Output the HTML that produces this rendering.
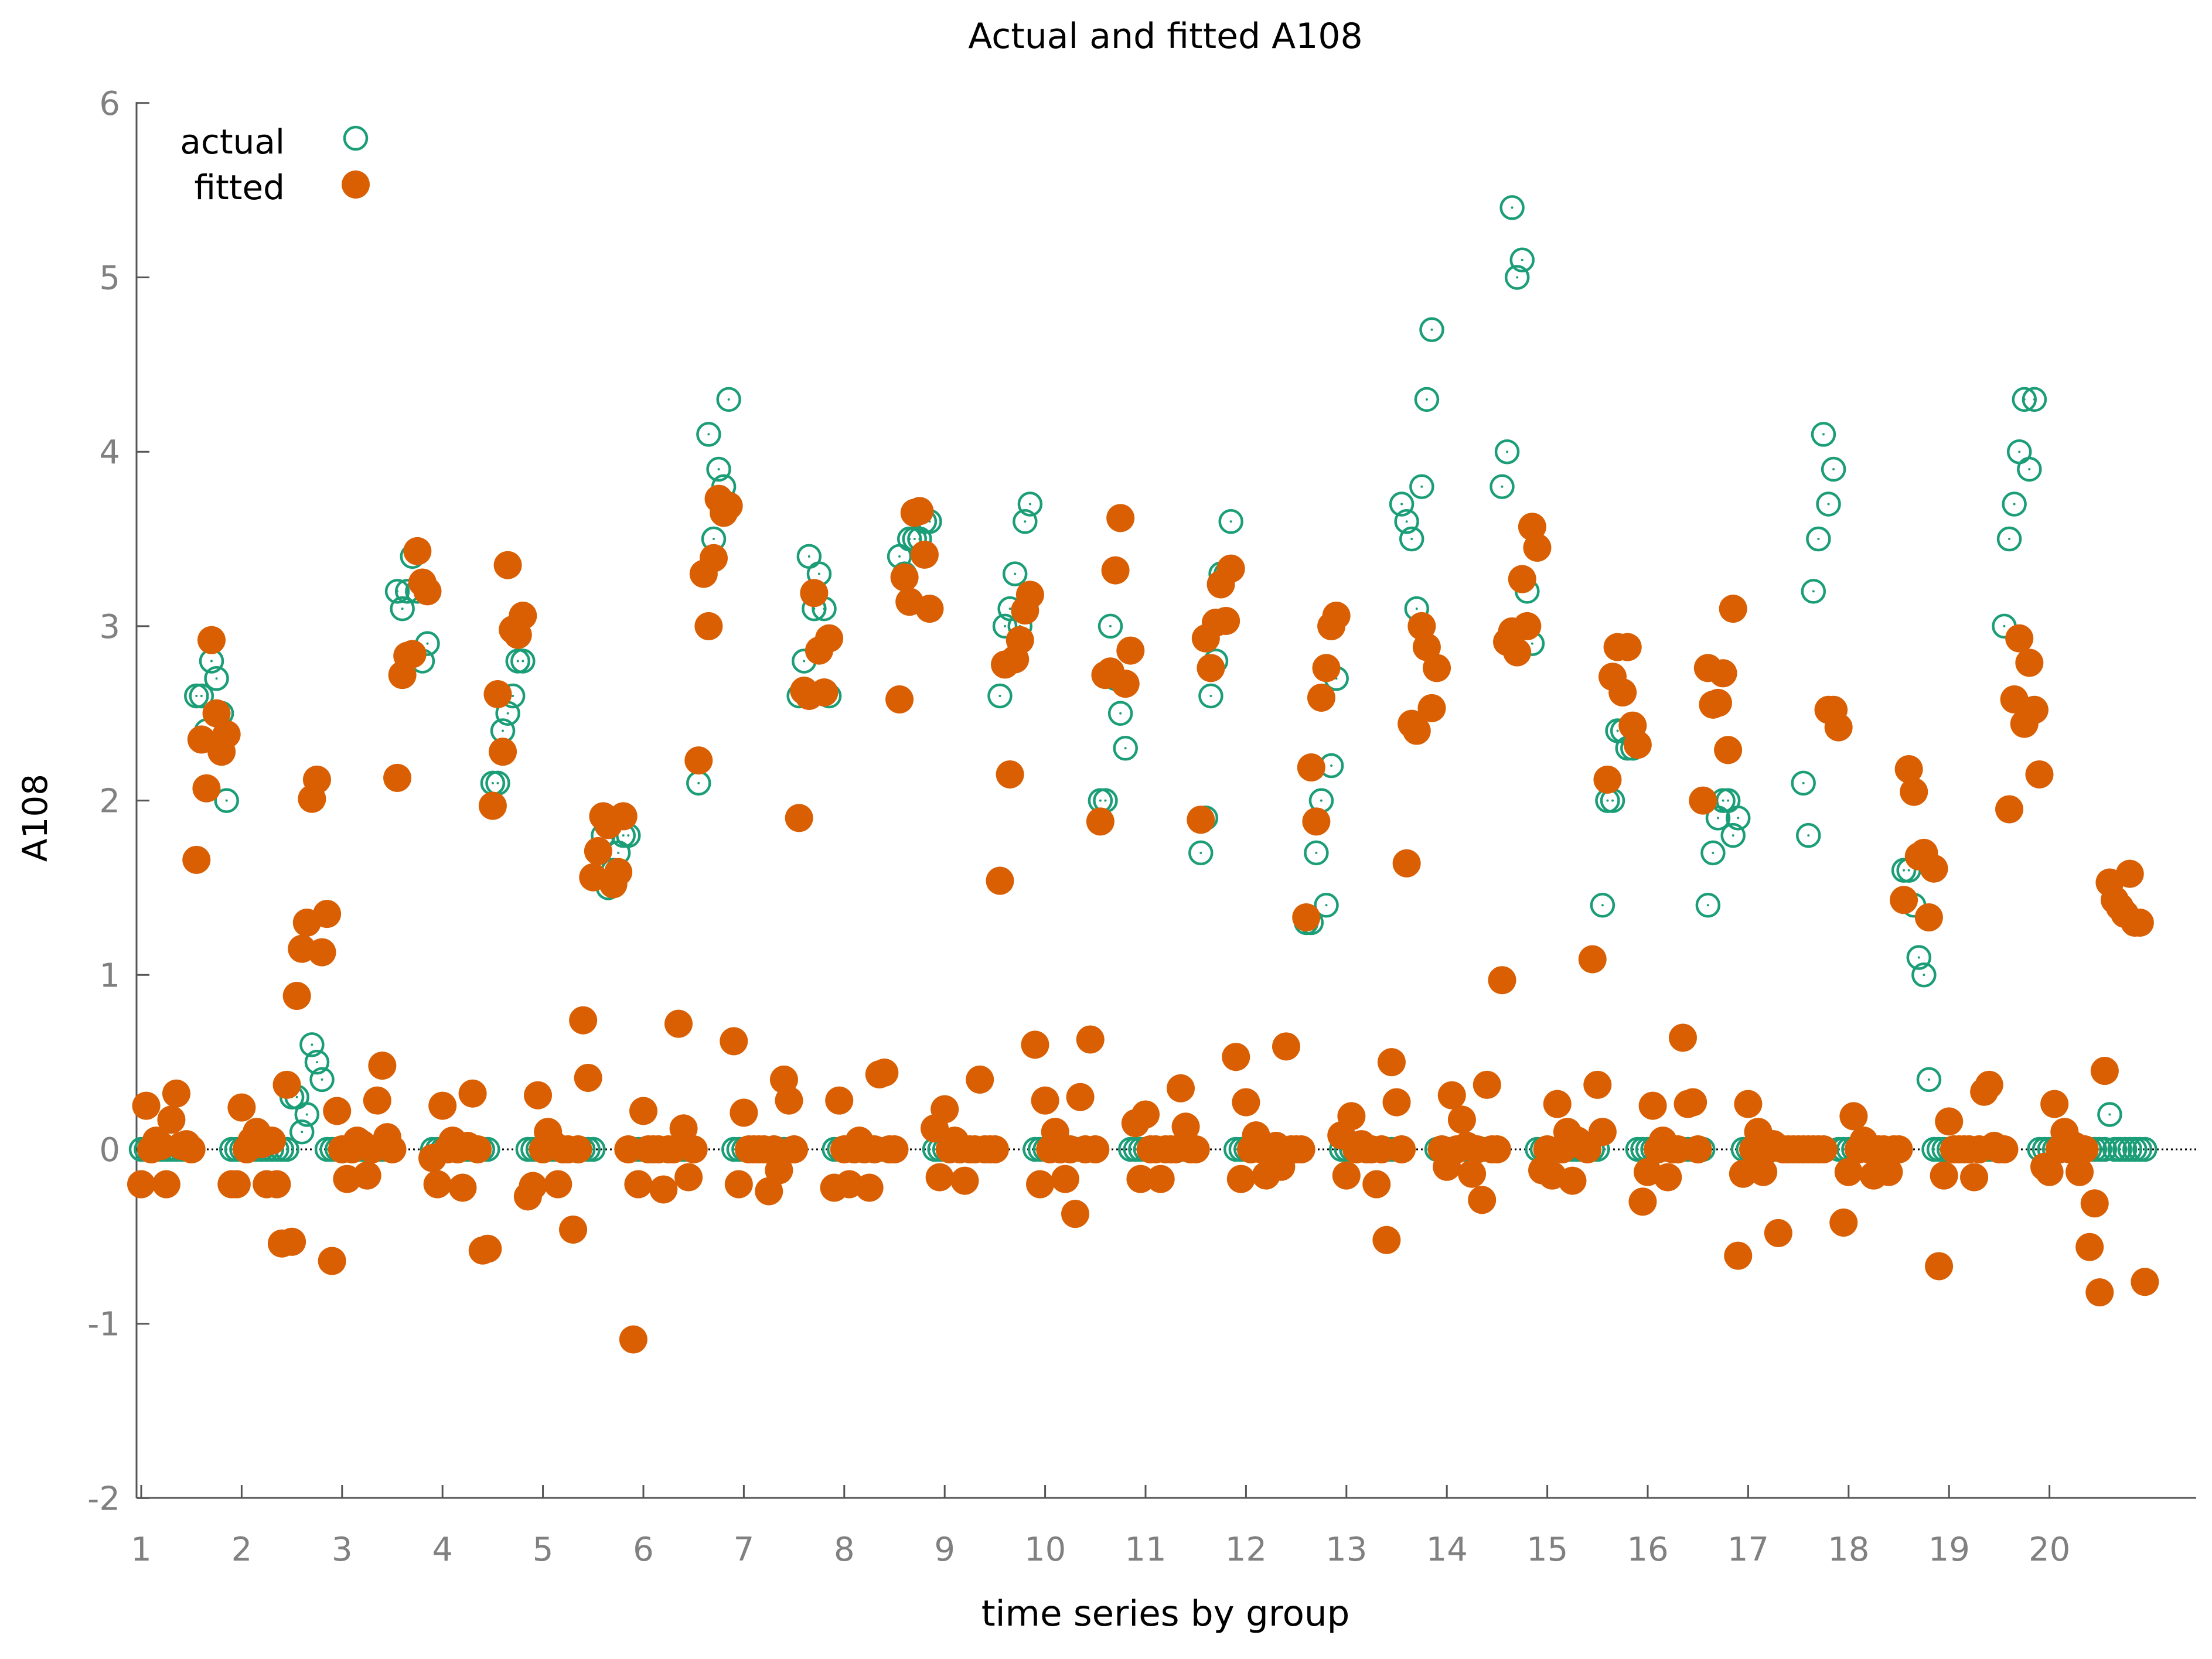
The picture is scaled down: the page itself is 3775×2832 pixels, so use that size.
<!DOCTYPE html>
<html><head><meta charset="utf-8"><style>
html,body{margin:0;padding:0;background:#fff}
svg{display:block}
text{font-family:"DejaVu Sans","Liberation Sans",sans-serif}
</style></head>
<body>
<svg id="chart" width="3775" height="2832" viewBox="0 0 3775 2832" xmlns="http://www.w3.org/2000/svg">
<rect width="3775" height="2832" fill="#fff"/>
<text x="1989" y="82" font-size="60" text-anchor="middle" fill="#000">Actual and fitted A108</text>
<text x="1989" y="2775" font-size="61" text-anchor="middle" fill="#000">time series by group</text>
<text transform="translate(80,1396) rotate(-90)" font-size="58" text-anchor="middle" fill="#000">A108</text>
<g id="axes"></g>
<g id="zero"></g>
<g id="marks"></g>
<g id="legend">
<text x="486" y="262" font-size="58" text-anchor="end" fill="#000">actual</text>
<circle cx="607" cy="236" r="19" fill="none" stroke="#1b9e77" stroke-width="4.5"/>
<text x="486" y="340" font-size="58" text-anchor="end" fill="#000">fitted</text>
<circle cx="607" cy="315" r="24" fill="#d95f02"/>
</g>
</svg>
<script>
const groupLabels = ["1","2","3","4","5","6","7","8","9","10","11","12","13","14","15","16","17","18","19","20"];
const yTicks = [-2,-1,0,1,2,3,4,5,6];
const obsPerGroup = 20;
const actual = [
0,0,0,0,0,0,0,0,0,0,0,2.6,2.6,2.4,2.8,2.7,2.5,2.0,0,0,
0,0,0,0,0,0,0,0,0,0,0.3,0.3,0.1,0.2,0.6,0.5,0.4,0,0,0,
0,0,0,0,0,0,0,0,0,0,0,3.2,3.1,3.2,3.4,3.2,2.8,2.9,0,0,
0,0,0,0,0,0,0,0,0,0,2.1,2.1,2.4,2.5,2.6,2.8,2.8,0,0,0,
0,0,0,0,0,0,0,0,0,0,0,1.7,1.8,1.5,1.6,1.7,1.8,1.8,0,0,
0,0,0,0,0,0,0,0,0,0,0,2.1,3.3,4.1,3.5,3.9,3.8,4.3,0,0,
0,0,0,0,0,0,0,0,0,0,0,2.6,2.8,3.4,3.1,3.3,3.1,2.6,0,0,
0,0,0,0,0,0,0,0,0,0,0,3.4,3.3,3.5,3.5,3.5,3.6,3.6,0,0,
0,0,0,0,0,0,0,0,0,0,0,2.6,3.0,3.1,3.3,3.0,3.6,3.7,0,0,
0,0,0,0,0,0,0,0,0,0,0,2.0,2.0,3.0,2.7,2.5,2.3,0,0,0,
0,0,0,0,0,0,0,0,0,0,0,1.7,1.9,2.6,2.8,3.3,3.3,3.6,0,0,
0,0,0,0,0,0,0,0,0,0,0,0,1.3,1.3,1.7,2.0,1.4,2.2,2.7,0,
0,0,0,0,0,0,0,0,0,0,0,3.7,3.6,3.5,3.1,3.8,4.3,4.7,0,0,
0,0,0,0,0,0,0,0,0,0,0,3.8,4.0,5.4,5.0,5.1,3.2,2.9,0,0,
0,0,0,0,0,0,0,0,0,0,0,1.4,2.0,2.0,2.4,2.4,2.3,2.3,0,0,
0,0,0,0,0,0,0,0,0,0,0,0,1.4,1.7,1.9,2.0,2.0,1.8,1.9,0,
0,0,0,0,0,0,0,0,0,0,0,2.1,1.8,3.2,3.5,4.1,3.7,3.9,0,0,
0,0,0,0,0,0,0,0,0,0,0,1.6,1.6,1.4,1.1,1.0,0.4,0,0,0,
0,0,0,0,0,0,0,0,0,0,0,3.0,3.5,3.7,4.0,4.3,3.9,4.3,0,0,
0,0,0,0,0,0,0,0,0,0,0,0,0.2,0,0,0,0,0,0,0
];
const fitted = [
-0.2,0.25,0,0.05,0.02,-0.2,0.17,0.32,0.02,0.03,0.0,1.66,2.35,2.07,2.92,2.5,2.28,2.38,-0.2,-0.2,
0.24,0.0,0.05,0.1,0.03,-0.2,0.05,-0.2,-0.54,0.37,-0.53,0.88,1.15,1.3,2.01,2.12,1.13,1.35,-0.64,0.22,
0.0,-0.17,0.0,0.05,0.03,-0.15,0.0,0.28,0.48,0.07,0.0,2.13,2.72,2.83,2.84,3.43,3.25,3.2,-0.05,-0.2,
0.25,0.0,0.05,0.0,-0.22,0.02,0.32,0.0,-0.58,-0.57,1.97,2.61,2.28,3.35,2.98,2.95,3.06,-0.27,-0.21,0.31,
0.0,0.1,0.03,-0.2,0.0,0.0,-0.46,0.0,0.74,0.41,1.56,1.71,1.91,1.86,1.52,1.59,1.91,0.0,-1.09,-0.2,
0.22,0.0,0.0,0.0,-0.23,0.0,0.0,0.72,0.12,-0.16,0.0,2.23,3.3,3.0,3.39,3.73,3.65,3.69,0.62,-0.2,
0.21,0.0,0.0,0.0,0.0,-0.24,0.0,-0.12,0.4,0.28,0.0,1.9,2.63,2.6,3.19,2.86,2.62,2.93,-0.22,0.28,
0.0,-0.2,0.0,0.05,0.0,-0.22,0.0,0.43,0.44,0.0,0.0,2.58,3.28,3.14,3.65,3.66,3.41,3.1,0.12,-0.16,
0.23,0.0,0.05,0.0,-0.18,0.0,0.0,0.4,0.0,0.0,0.0,1.54,2.78,2.15,2.81,2.92,3.09,3.18,0.6,-0.2,
0.28,0.0,0.1,0.0,-0.17,0.0,-0.37,0.3,0.0,0.63,0.0,1.88,2.72,2.74,3.32,3.62,2.67,2.86,0.15,-0.17,
0.2,0.0,0.0,-0.17,0.0,0.0,0.0,0.35,0.13,0.0,0.0,1.89,2.93,2.76,3.02,3.24,3.03,3.33,0.53,-0.17,
0.27,0.0,0.08,0.0,-0.15,0.0,0.02,-0.1,0.59,0.0,0.0,0.0,1.33,2.19,1.88,2.59,2.76,3.0,3.06,0.08,
-0.15,0.19,0.0,0.03,0.0,0.0,-0.2,0.0,-0.52,0.5,0.27,0.0,1.64,2.44,2.4,3.0,2.88,2.53,2.76,0.0,
-0.1,0.31,0.0,0.17,0.02,-0.14,0.0,-0.29,0.37,0.0,0.0,0.97,2.91,2.97,2.85,3.27,3.0,3.57,3.45,-0.12,
0.0,-0.15,0.26,0.0,0.1,-0.18,0.05,0.02,0.0,1.09,0.37,0.1,2.12,2.71,2.88,2.62,2.88,2.43,2.32,-0.3,
-0.13,0.25,0.0,0.05,-0.16,0.0,0.0,0.64,0.26,0.27,0.0,2.0,2.76,2.55,2.56,2.73,2.29,3.1,-0.61,-0.14,
0.26,0.0,0.1,-0.13,0.0,0.03,-0.48,0.0,0.0,0.0,0.0,0.0,0.0,0.0,0.0,0.0,2.52,2.52,2.42,-0.42,
-0.13,0.19,0.0,0.05,0.0,-0.15,0.0,0.0,-0.13,0.0,0.0,1.43,2.18,2.05,1.68,1.7,1.33,1.61,-0.67,-0.15,
0.16,0.0,0.0,0.0,0.0,-0.16,0.0,0.33,0.37,0.02,0.0,0.0,1.95,2.58,2.93,2.44,2.79,2.52,2.15,-0.1,
-0.13,0.26,0.0,0.1,0.0,0.02,-0.13,0.0,-0.56,-0.31,-0.82,0.45,1.53,1.43,1.39,1.35,1.58,1.3,1.3,-0.76
];

const NS = "http://www.w3.org/2000/svg";
const X0 = 233, X1 = 3748, Y0 = 176, Y1 = 2557;
function xScale(v){ return 241 + (v - 1) * 171.4; }
function yScale(v){ return 1962 - v * 297.7; }
function mk(tag, attrs, parent){
  const e = document.createElementNS(NS, tag);
  for (const k in attrs) e.setAttribute(k, attrs[k]);
  parent.appendChild(e);
  return e;
}
const axes = document.getElementById('axes');
const axisCol = "#555";
let l = mk('line', {x1:X0, y1:Y0-2, x2:X0, y2:Y1, stroke:axisCol, 'stroke-width':3}, axes);


l = mk('line', {x1:X0, y1:Y1, x2:X1, y2:Y1, stroke:axisCol, 'stroke-width':3}, axes);



yTicks.forEach(v => {
  const y = yScale(v);
  const t = mk('line', {x1:X0, y1:y, x2:X0+22, y2:y, stroke:axisCol, 'stroke-width':3}, axes);
  
  
  const tx = mk('text', {x:205, y:y+20, 'font-size':56, 'text-anchor':'end', fill:'#808080'}, axes);
  tx.textContent = String(v);
  
  
});
groupLabels.forEach((lab, i) => {
  const x = xScale(i + 1);
  const t = mk('line', {x1:x, y1:Y1, x2:x, y2:Y1-22, stroke:axisCol, 'stroke-width':3}, axes);
  
  
  const tx = mk('text', {x:x, y:2664, 'font-size':56, 'text-anchor':'middle', fill:'#808080'}, axes);
  tx.textContent = lab;
  
  
});

const zero = document.getElementById('zero');
const zl = mk('line', {x1:X0, y1:yScale(0), x2:X1, y2:yScale(0), stroke:'#000', 'stroke-width':3, 'stroke-dasharray':'3 5'}, zero);



const marks = document.getElementById('marks');
const ga = mk('g', {}, marks);


const gf = mk('g', {}, marks);



actual.forEach((v, i) => {
  const xv = 1 + i / obsPerGroup;
  const c = mk('circle', {cx:xScale(xv), cy:yScale(v), r:19, fill:'none', stroke:'#1b9e77', 'stroke-width':4.5}, ga);
  
  
  const d = mk('circle', {cx:xScale(xv), cy:yScale(v), r:2, fill:'#1b9e77'}, ga);
  
  
});
fitted.forEach((v, i) => {
  const xv = 1 + i / obsPerGroup;
  const c = mk('circle', {cx:xScale(xv), cy:yScale(v), r:24, fill:'#d95f02'}, gf);
  
  
});
</script>
</body></html>
